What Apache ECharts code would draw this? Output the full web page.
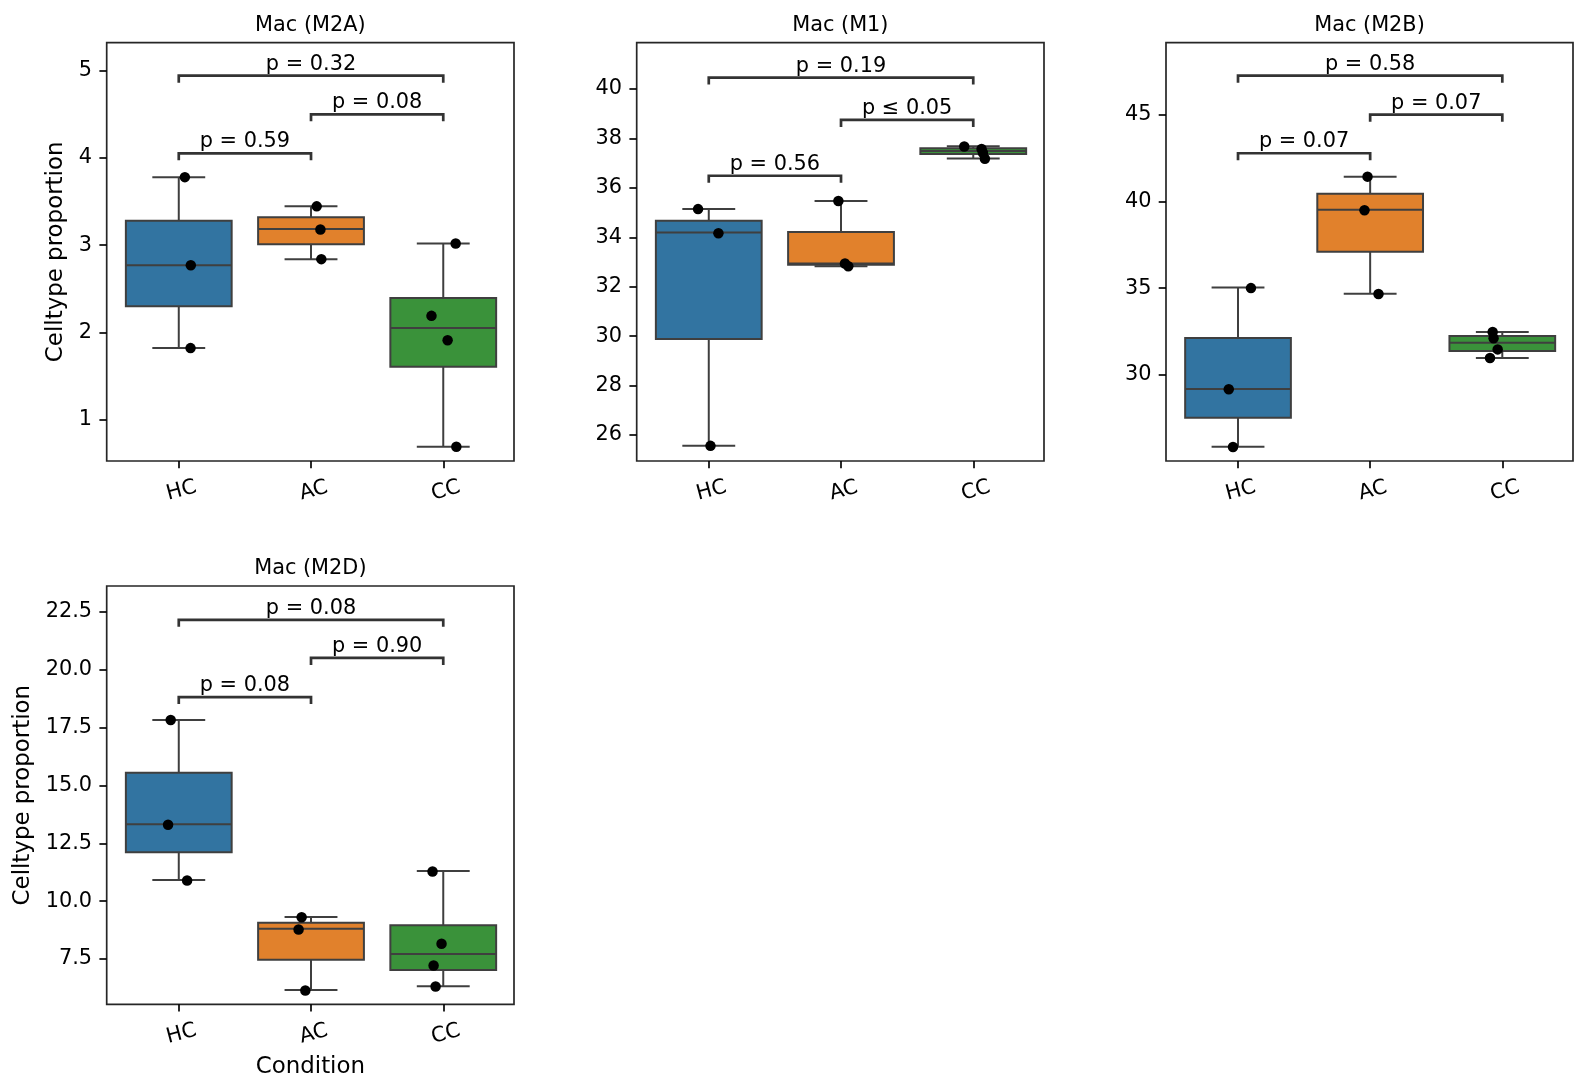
<!DOCTYPE html>
<html>
<head>
<meta charset="utf-8">
<script src="https://cdn.jsdelivr.net/npm/echarts@6.0.0/dist/echarts.min.js"></script>
<style>
  html, body { margin: 0; padding: 0; background: #fff; }
  #chart { width: 1588px; height: 1092px; }
</style>
</head>
<body>
<div id="chart"></div>
<script>
// ---- data ----
const conditions = ['HC', 'AC', 'CC'];
const bracketPairs = [[0, 1], [1, 2], [0, 2]];

// Mac (M2A)
const m2aPoints = [[3.78, 2.77, 1.82], [3.445, 3.18, 2.84], [3.02, 2.19, 1.91, 0.69]];
const m2aJitter = [[0.046, 0.091, 0.089], [0.043, 0.071, 0.078], [0.094, -0.089, 0.033, 0.099]];
const m2aBoxes = [[1.82, 2.30, 2.77, 3.28, 3.78], [2.84, 3.01, 3.185, 3.32, 3.445], [0.69, 1.605, 2.05, 2.395, 3.02]];
const m2aBrackets = [4.053, 4.50, 4.943];
const m2aPvals = ['p = 0.59', 'p = 0.08', 'p = 0.32'];
const m2aTicks = [1, 2, 3, 4, 5];
const m2aRange = [0.526, 5.321];

// Mac (M1)
const m1Points = [[35.14, 34.16, 25.56], [35.47, 32.94, 32.83], [37.67, 37.57, 37.42, 37.18]];
const m1Jitter = [[-0.081, 0.073, 0.013], [-0.02, 0.03, 0.055], [-0.068, 0.063, 0.073, 0.088]];
const m1Boxes = [[25.57, 29.88, 34.19, 34.67, 35.14], [32.83, 32.885, 32.94, 34.21, 35.47], [37.19, 37.37, 37.495, 37.60, 37.68]];
const m1Brackets = [36.49, 38.75, 40.46];
const m1Pvals = ['p = 0.56', 'p \u2264 0.05', 'p = 0.19'];
const m1Ticks = [26, 28, 30, 32, 34, 36, 38, 40];
const m1Range = [24.948, 41.873];

// Mac (M2B)
const m2bPoints = [[35.0, 29.16, 25.82], [41.44, 39.5, 34.66], [32.46, 32.1, 31.46, 30.96]];
const m2bJitter = [[0.098, -0.07, -0.038], [-0.02, -0.043, 0.063], [-0.073, -0.066, -0.035, -0.093]];
const m2bBoxes = [[25.84, 27.515, 29.17, 32.12, 35.03], [34.68, 37.105, 39.53, 40.455, 41.44], [30.96, 31.37, 31.85, 32.23, 32.46]];
const m2bBrackets = [42.79, 45.02, 47.27];
const m2bPvals = ['p = 0.07', 'p = 0.07', 'p = 0.58'];
const m2bTicks = [30, 35, 40, 45];
const m2bRange = [25.012, 49.177];

// Mac (M2D)
const m2dPoints = [[17.83, 13.3, 10.89], [9.3, 8.77, 6.14], [11.28, 8.16, 7.22, 6.31]];
const m2dJitter = [[-0.061, -0.081, 0.063], [-0.071, -0.094, -0.043], [-0.081, -0.013, -0.073, -0.058]];
const m2dBoxes = [[10.91, 12.11, 13.32, 15.55, 17.83], [6.16, 7.47, 8.81, 9.06, 9.315], [6.32, 7.02, 7.71, 8.96, 11.3]];
const m2dBrackets = [18.82, 20.51, 22.16];
const m2dPvals = ['p = 0.08', 'p = 0.90', 'p = 0.08'];
const m2dTicks = [7.5, 10, 12.5, 15, 17.5, 20, 22.5];
const m2dRange = [5.54, 23.62];

const panels = [
  { title: 'Mac (M2A)', points: m2aPoints, jitter: m2aJitter, boxes: m2aBoxes, brackets: m2aBrackets, pvals: m2aPvals, ticks: m2aTicks, range: m2aRange, dec: 0 },
  { title: 'Mac (M1)', points: m1Points, jitter: m1Jitter, boxes: m1Boxes, brackets: m1Brackets, pvals: m1Pvals, ticks: m1Ticks, range: m1Range, dec: 0 },
  { title: 'Mac (M2B)', points: m2bPoints, jitter: m2bJitter, boxes: m2bBoxes, brackets: m2bBrackets, pvals: m2bPvals, ticks: m2bTicks, range: m2bRange, dec: 0 },
  { title: 'Mac (M2D)', points: m2dPoints, jitter: m2dJitter, boxes: m2dBoxes, brackets: m2dBrackets, pvals: m2dPvals, ticks: m2dTicks, range: m2dRange, dec: 1 }
];

// ---- layout / style ----
const palette = ['#3274a1', '#e1812c', '#3a923a'];
const FONT = 'DejaVu Sans';
const FS = 20.83;       // 10pt
const FS_LABEL = 22.92; // 11pt
const lineGray = '#3f3f3f';

const grids = [
  { left: 106.7, top: 42.7, width: 407.3, height: 418.3 },
  { left: 636.7, top: 42.7, width: 407.3, height: 418.3 },
  { left: 1166, top: 42.7, width: 407, height: 418.3 },
  { left: 106.7, top: 586, width: 407.3, height: 418.3 }
];

function renderBox(params, api) {
  const x = api.value(0);
  const lo = api.coord([x - 0.4, api.value(2)]);
  const hi = api.coord([x + 0.4, api.value(4)]);
  const med = api.coord([x, api.value(3)]);
  const wMin = api.coord([x, api.value(1)]);
  const wMax = api.coord([x, api.value(5)]);
  const capL = api.coord([x - 0.2, api.value(1)])[0];
  const capR = api.coord([x + 0.2, api.value(1)])[0];
  const st = { stroke: lineGray, lineWidth: 2, fill: 'none' };
  return {
    type: 'group',
    children: [
      { type: 'line', shape: { x1: med[0], y1: hi[1], x2: med[0], y2: wMax[1] }, style: st },
      { type: 'line', shape: { x1: med[0], y1: lo[1], x2: med[0], y2: wMin[1] }, style: st },
      { type: 'line', shape: { x1: capL, y1: wMax[1], x2: capR, y2: wMax[1] }, style: st },
      { type: 'line', shape: { x1: capL, y1: wMin[1], x2: capR, y2: wMin[1] }, style: st },
      { type: 'rect', shape: { x: lo[0], y: hi[1], width: hi[0] - lo[0], height: lo[1] - hi[1] },
        style: { fill: palette[x], stroke: lineGray, lineWidth: 2 } },
      { type: 'line', shape: { x1: lo[0], y1: med[1], x2: hi[0], y2: med[1] }, style: st }
    ]
  };
}

function makeBracketRenderer(pvals) {
  return function (params, api) {
    const a = api.coord([api.value(0), api.value(2)]);
    const b = api.coord([api.value(1), api.value(2)]);
    const drop = 7;
    return {
      type: 'group',
      children: [
        { type: 'polyline',
          shape: { points: [[a[0], a[1] + drop], [a[0], a[1]], [b[0], b[1]], [b[0], b[1] + drop]] },
          style: { stroke: '#333', lineWidth: 2.7, fill: 'none' } },
        { type: 'text', x: (a[0] + b[0]) / 2, y: a[1] - 1,
          style: { text: pvals[api.value(3)], fontFamily: FONT, fontSize: FS, fill: '#000',
                   align: 'center', verticalAlign: 'bottom' } }
      ]
    };
  };
}

const option = {
  animation: false,
  backgroundColor: '#fff',
  title: [],
  grid: [],
  xAxis: [],
  yAxis: [],
  series: []
};

panels.forEach(function (p, g) {
  const gr = grids[g];
  option.grid.push(Object.assign({ show: true, borderColor: '#262626', borderWidth: 1.7, containLabel: false }, gr));

  option.title.push({
    text: p.title,
    left: gr.left + gr.width / 2,
    top: gr.top - 27.5,
    textAlign: 'center',
    padding: 0,
    textStyle: { fontFamily: FONT, fontSize: FS, fontWeight: 'normal', color: '#000' }
  });

  option.xAxis.push({
    type: 'value',
    gridIndex: g,
    position: 'bottom',
    min: -0.545,
    max: 2.535,
    name: g === 3 ? 'Condition' : '',
    nameLocation: 'middle',
    nameGap: 50.8,
    nameTextStyle: { fontFamily: FONT, fontSize: FS_LABEL, color: '#000' },
    splitLine: { show: false },
    axisLine: { show: false, onZero: false },
    axisTick: { show: true, customValues: [0, 1, 2], length: 7.3, lineStyle: { color: '#000', width: 1.67 } },
    axisLabel: {
      customValues: [0, 1, 2],
      formatter: function (v) { return conditions[Math.round(v)]; },
      rotate: 15, align: 'center', verticalAlign: 'top', margin: 19.5,
      fontFamily: FONT, fontSize: FS, color: '#000'
    }
  });

  option.yAxis.push({
    type: 'value',
    gridIndex: g,
    position: 'left',
    min: p.range[0],
    max: p.range[1],
    name: (g === 0 || g === 3) ? 'Celltype proportion' : '',
    nameLocation: 'middle',
    nameGap: g === 0 ? 38.8 : 72,
    nameTextStyle: { fontFamily: FONT, fontSize: FS_LABEL, color: '#000' },
    splitLine: { show: false },
    axisLine: { show: false, onZero: false },
    axisTick: { show: true, customValues: p.ticks, length: 7.3, lineStyle: { color: '#000', width: 1.67 } },
    axisLabel: {
      customValues: p.ticks,
      formatter: function (v) { return v.toFixed(p.dec); },
      margin: 14.6,
      fontFamily: FONT, fontSize: FS, color: '#000'
    }
  });

  option.series.push({
    type: 'custom',
    xAxisIndex: g, yAxisIndex: g,
    z: 2,
    renderItem: renderBox,
    encode: { x: 0, y: [1, 2, 3, 4, 5] },
    data: p.boxes.map(function (b, i) { return [i].concat(b); })
  });

  const pts = [];
  p.points.forEach(function (vals, i) {
    vals.forEach(function (v, j) { pts.push([i + p.jitter[i][j], v]); });
  });
  option.series.push({
    type: 'scatter',
    xAxisIndex: g, yAxisIndex: g,
    z: 3,
    symbolSize: 10.5,
    itemStyle: { color: '#000', opacity: 1 },
    data: pts
  });

  option.series.push({
    type: 'custom',
    xAxisIndex: g, yAxisIndex: g,
    z: 4,
    renderItem: makeBracketRenderer(p.pvals),
    encode: { x: [0, 1], y: 2 },
    data: bracketPairs.map(function (pr, k) { return [pr[0], pr[1], p.brackets[k], k]; })
  });
});

const chart = echarts.init(document.getElementById('chart'), null, { renderer: 'canvas' });
chart.setOption(option);
</script>
</body>
</html>
